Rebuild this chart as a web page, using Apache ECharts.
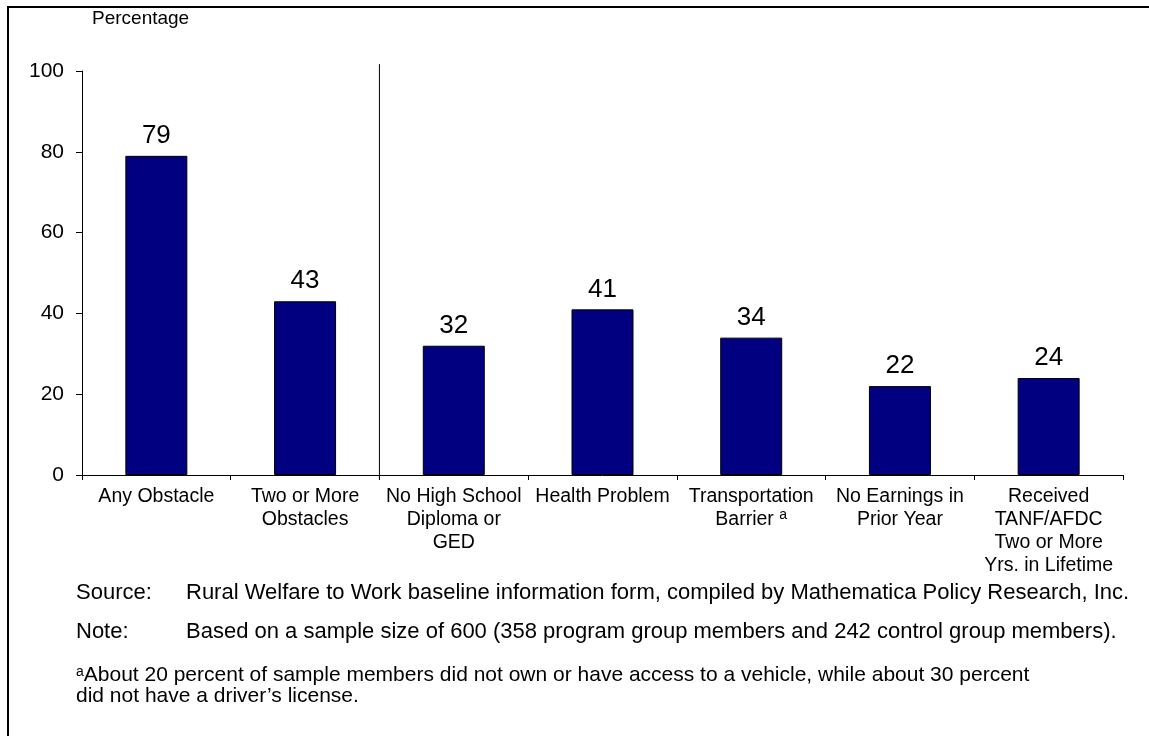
<!DOCTYPE html>
<html>
<head>
<meta charset="utf-8">
<script src="https://cdn.jsdelivr.net/npm/echarts@6/dist/echarts.min.js"></script>
<style>
  html, body { margin: 0; padding: 0; background: #fff; }
  #chart { width: 1149px; height: 736px; }
</style>
</head>
<body>
<div id="chart"></div>
<script>
// categories and values
const categories = [
  'Any Obstacle',
  'Two or More\nObstacles',
  'No High School\nDiploma or\nGED',
  'Health Problem',
  'Transportation\nBarrier {sup|a}',
  'No Earnings in\nPrior Year',
  'Received\nTANF/AFDC\nTwo or More\nYrs. in Lifetime'
];
const values = [79, 43, 32, 41, 34, 22, 24];
const yTicks = [0, 20, 40, 60, 80, 100];
// separator between the summary bars and the individual obstacles
// (x on the helper axis, y span a little past the axis range like the original)
const separatorAt = 1.5;
const separatorSpan = [101.7, -1.2];

const font = '"Liberation Sans", Arial, sans-serif';

const chart = echarts.init(document.getElementById('chart'));
chart.setOption({
  animation: false,
  textStyle: { fontFamily: font },
  title: {
    text: 'Percentage',
    left: 92,
    top: 9,
    padding: 0,
    textStyle: { fontFamily: font, fontSize: 19, fontWeight: 'normal', color: '#000' }
  },
  grid: { left: 82, right: 26, top: 71, bottom: 261, containLabel: false },
  xAxis: [{
    type: 'category',
    data: categories,
    axisLine: { onZero: false, lineStyle: { color: '#000', width: 1 } },
    axisTick: { show: true, length: 5, lineStyle: { color: '#000' } },
    splitLine: { show: false },
    axisLabel: {
      interval: 0,
      color: '#000',
      fontSize: 19.5,
      lineHeight: 23,
      margin: 10,
      fontFamily: font,
      rich: {
        sup: { fontSize: 14, verticalAlign: 'top', padding: [0, 0, 8, 0], color: '#000', fontFamily: font }
      }
    }
  }, {
    // hidden helper axis so the separator can sit between two categories
    type: 'value',
    min: -0.5,
    max: categories.length - 0.5,
    show: false
  }],
  yAxis: {
    type: 'value',
    min: yTicks[0],
    max: yTicks[yTicks.length - 1],
    interval: 20,
    axisLine: { show: true, onZero: false, lineStyle: { color: '#000', width: 1 } },
    axisTick: { show: true, length: 6, lineStyle: { color: '#000' } },
    splitLine: { show: false },
    axisLabel: { color: '#000', fontSize: 21, margin: 18, fontFamily: font }
  },
  series: [{
    type: 'bar',
    data: values,
    barWidth: 62,
    itemStyle: { color: '#000080', borderColor: '#000', borderWidth: 1 },
    label: {
      show: true,
      position: 'top',
      distance: 7,
      color: '#000',
      fontSize: 26,
      fontFamily: font
    }
  }, {
    type: 'line',
    xAxisIndex: 1,
    clip: false,
    silent: true,
    symbol: 'none',
    lineStyle: { color: '#000', width: 1 },
    data: separatorSpan.map(v => [separatorAt, v])
  }],
  graphic: [
    {
      type: 'rect',
      shape: { x: 8, y: 7, width: 1200, height: 800 },
      style: { fill: 'none', stroke: '#000', lineWidth: 2 },
      silent: true
    },
    {
      type: 'text', left: 76, top: 582,
      style: { text: 'Source:', fontSize: 22, fontFamily: font, fill: '#000' }
    },
    {
      type: 'text', left: 186, top: 582,
      style: { text: 'Rural Welfare to Work baseline information form, compiled by Mathematica Policy Research, Inc.', fontSize: 22, fontFamily: font, fill: '#000' }
    },
    {
      type: 'text', left: 76, top: 621,
      style: { text: 'Note:', fontSize: 22, fontFamily: font, fill: '#000' }
    },
    {
      type: 'text', left: 186, top: 621,
      style: { text: 'Based on a sample size of 600 (358 program group members and 242 control group members).', fontSize: 22, fontFamily: font, fill: '#000' }
    },
    {
      type: 'text', left: 76, top: 665,
      style: {
        text: '{sup|a}About 20 percent of sample members did not own or have access to a vehicle, while about 30 percent\ndid not have a driver\u2019s license.',
        fontSize: 21, lineHeight: 21, fontFamily: font, fill: '#000',
        rich: { sup: { fontSize: 14, verticalAlign: 'top', padding: [0, 0, 7, 0], fill: '#000', fontFamily: font } }
      }
    }
  ]
});
</script>
</body>
</html>
